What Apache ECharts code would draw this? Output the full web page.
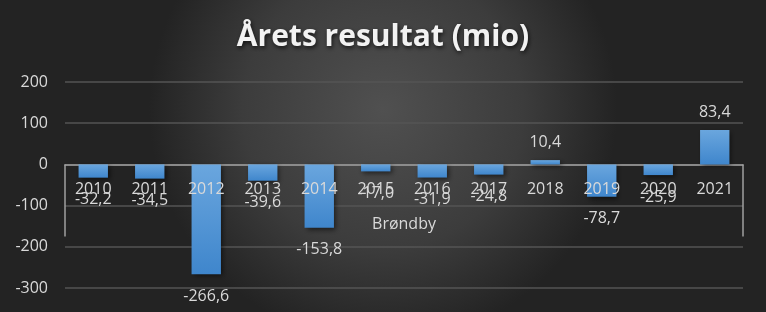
<!DOCTYPE html>
<html>
<head>
<meta charset="utf-8">
<script src="https://cdn.jsdelivr.net/npm/echarts@6/dist/echarts.min.js"></script>
<style>
html,body{margin:0;padding:0;background:#333;}
#c{width:766px;height:312px;}
</style>
</head>
<body>
<div id="c"></div>
<script>
var titleText = 'Årets resultat (mio)';
var categories = ['2010','2011','2012','2013','2014','2015','2016','2017','2018','2019','2020','2021'];
var values = [-32.2, -34.5, -266.6, -39.6, -153.8, -17.0, -31.9, -24.8, 10.4, -78.7, -25.9, 83.4];
var groupLabels = ['Brøndby'];
var yMin = -300, yMax = 200, yStep = 100;

var W = 766, H = 312;
var G = {left:65, right:23, top:82, bottom:24};
// pixel row of the zero value inside the plot area (derived from the scale)
var plotH = H - G.top - G.bottom;
var zeroTop = G.top + plotH * yMax / (yMax - yMin);

var chart = echarts.init(document.getElementById('c'), null, {renderer:'canvas'});
var FONT = '"Open Sans", "Liberation Sans", sans-serif';
function grid(top){
  return {left:G.left, right:G.right, top:top, bottom:G.bottom, containLabel:false, outerBoundsMode:'none'};
}
var option = {
  animation:false,
  backgroundColor:{
    type:'radial', x:0.5, y:0.35, r:0.75,
    colorStops:[{offset:0,color:'#505050'},{offset:0.6,color:'#3c3c3c'},{offset:1,color:'#232323'}]
  },
  title:{
    text:titleText, left:'center', top:17,
    textStyle:{color:'#f2f2f2', fontSize:30, fontWeight:'bold', fontFamily:FONT,
      textShadowColor:'rgba(0,0,0,0.7)', textShadowBlur:4, textShadowOffsetX:1, textShadowOffsetY:2}
  },
  grid:[grid(G.top), grid(zeroTop), grid(zeroTop)],
  xAxis:[
    {type:'category', gridIndex:0, data:categories,
     axisLine:{show:true, onZero:true, lineStyle:{color:'#a0a0a0', width:1.5}},
     axisTick:{show:false}, axisLabel:{show:false}},
    {type:'category', gridIndex:1, data:categories, position:'top', z:10,
     axisLine:{show:false, onZero:false}, axisTick:{show:false}, splitLine:{show:false},
     axisLabel:{inside:true, color:'#d9d9d9', fontSize:16, fontFamily:FONT, margin:17}},
    {type:'category', gridIndex:2, data:groupLabels, position:'top', z:10,
     axisLine:{show:false, onZero:false}, splitLine:{show:false},
     axisTick:{show:true, inside:true, length:72, lineStyle:{color:'#a0a0a0', width:1.5}},
     axisLabel:{inside:true, color:'#d9d9d9', fontSize:16, fontFamily:FONT, margin:52}}
  ],
  yAxis:[
    {type:'value', gridIndex:0, min:yMin, max:yMax, interval:yStep,
     axisLine:{show:false}, axisTick:{show:false},
     axisLabel:{color:'#d9d9d9', fontSize:16, fontFamily:FONT, margin:17},
     splitLine:{lineStyle:{color:'#555555', width:1.5}}},
    {type:'value', gridIndex:1, min:0, max:1, show:false, splitLine:{show:false}},
    {type:'value', gridIndex:2, min:0, max:1, show:false, splitLine:{show:false}}
  ],
  series:[{
    type:'bar', xAxisIndex:0, yAxisIndex:0, barCategoryGap:'48%',
    itemStyle:{
      color:{type:'linear', x:0, y:0, x2:0, y2:1,
        colorStops:[{offset:0,color:'#6aa6de'},{offset:1,color:'#3f86cc'}]},
      shadowColor:'rgba(0,0,0,0.55)', shadowBlur:5, shadowOffsetX:2, shadowOffsetY:2
    },
    label:{show:true, color:'#d9d9d9', fontSize:16, fontFamily:FONT,
      formatter:function(p){return p.value.toFixed(1).replace('.',',');}},
    data: values.map(function(v){
      return {value:v, label:{position: v<0 ? 'bottom' : 'top', distance: v<0 ? 14 : 10}};
    })
  }]
};
chart.setOption(option);
</script>
</body>
</html>
